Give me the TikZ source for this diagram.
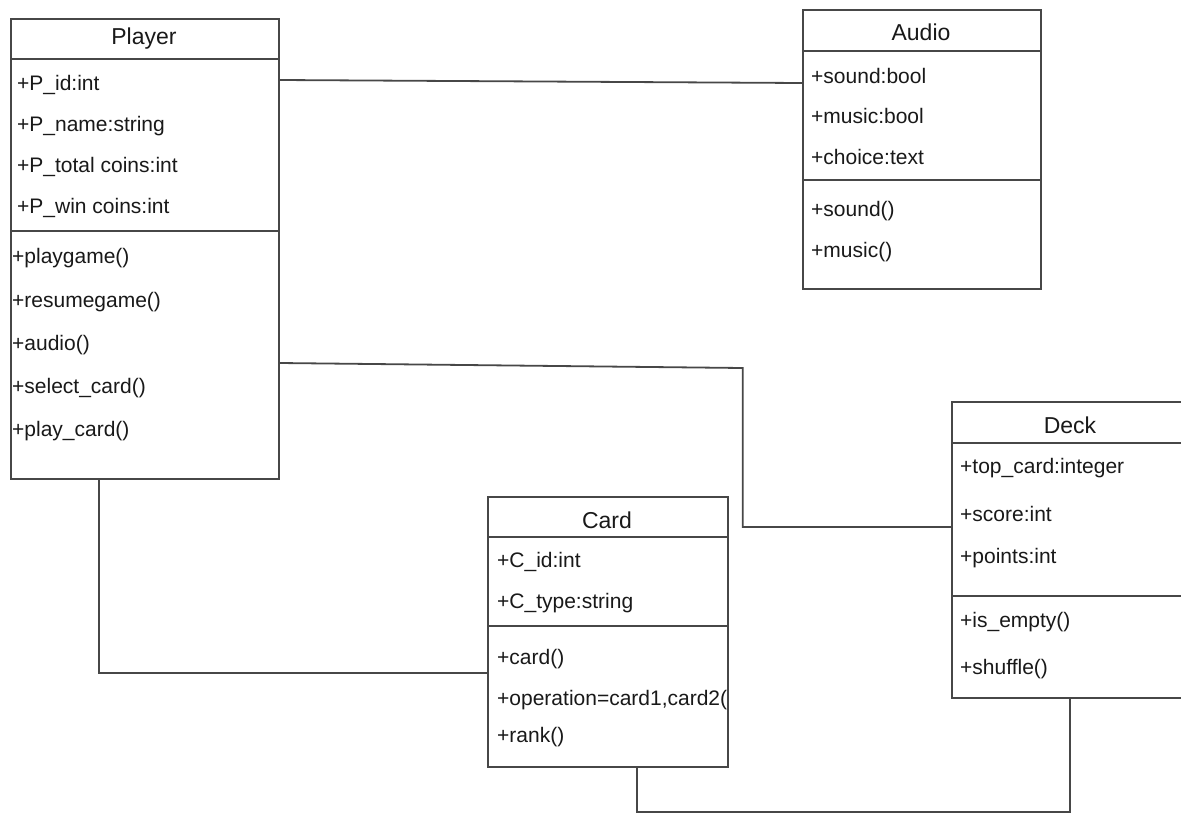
\documentclass[tikz,border=0pt]{standalone}
\usepackage{fontspec}
\setmainfont{Liberation Sans}
\begin{document}
\begin{tikzpicture}[x=1pt,y=-1pt,
  classbox/.style={draw=black!72, line width=1.8pt, fill=white, rectangle, inner sep=0pt, anchor=north west},
  divider/.style={draw=black!72, line width=1.8pt},
  conn/.style={draw=black!72, line width=1.8pt},
  title/.style={font=\fontsize{23}{27}\selectfont, text=black!90, inner sep=0pt},
  member/.style={font=\fontsize{21}{25}\selectfont, text=black!90, inner sep=0pt, anchor=west}]
\useasboundingbox (0,0) rectangle (1181,812);

% ---------- Player ----------
\node[classbox, minimum width=268pt, minimum height=460pt] (player) at (10,18) {};
\draw[divider] (10,59) -- (278,59);
\draw[divider] (10,231) -- (278,231);
\node[title] (ptitle) at (144,39) {Player};
\node[member] (p1) at (17,85) {+P\_id:int};
\node[member] (p2) at (17,126) {+P\_name:string};
\node[member] (p3) at (17,167) {+P\_total coins:int};
\node[member] (p4) at (17,208) {+P\_win coins:int};
\node[member] (p5) at (12,258) {+playgame()};
\node[member] (p6) at (12,302) {+resumegame()};
\node[member] (p7) at (12,345) {+audio()};
\node[member] (p8) at (12,388) {+select\_card()};
\node[member] (p9) at (12,431) {+play\_card()};

% ---------- Audio ----------
\node[classbox, minimum width=238pt, minimum height=279pt] (audio) at (802,9) {};
\draw[divider] (802,51) -- (1040,51);
\draw[divider] (802,180) -- (1040,180);
\node[title] (atitle) at (921,32) {Audio};
\node[member] (a1) at (811,76) {+sound:bool};
\node[member] (a2) at (811,116) {+music:bool};
\node[member] (a3) at (811,157) {+choice:text};
\node[member] (a4) at (811,211) {+sound()};
\node[member] (a5) at (811,252) {+music()};

% ---------- Card ----------
\node[classbox, minimum width=240pt, minimum height=270pt] (card) at (487,496) {};
\draw[divider] (487,537) -- (727,537);
\draw[divider] (487,626) -- (727,626);
\node[title] (ctitle) at (607,520) {Card};
\node[member] (c1) at (497,562) {+C\_id:int};
\node[member] (c2) at (497,603) {+C\_type:string};
\node[member] (c3) at (497,659) {+card()};
\begin{scope}
\clip (487,680) rectangle (726,720);
\node[member] (c4) at (497,700) {+operation=card1,card2()};
\end{scope}
\node[member] (c5) at (497,737) {+rank()};

% ---------- Deck ----------
\node[classbox, minimum width=240pt, minimum height=296pt] (deck) at (951,401) {};
\draw[divider] (951,443) -- (1191,443);
\draw[divider] (951,596) -- (1191,596);
\node[title] (dtitle) at (1070,425) {Deck};
\node[member] (d1) at (960,468) {+top\_card:integer};
\node[member] (d2) at (960,514) {+score:int};
\node[member] (d3) at (960,558) {+points:int};
\node[member] (d4) at (960,622) {+is\_empty()};
\node[member] (d5) at (960,669) {+shuffle()};

% ---------- Connectors ----------
\draw[conn] ([yshift=-62pt]player.north east) -- ([yshift=-74pt]audio.north west);
\draw[conn] ([yshift=-345pt]player.north east) -- ++(463,5) |- ([yshift=-126pt]deck.north west);
\draw[conn] ([xshift=89pt]player.south west) |- ([yshift=-177pt]card.north west);
\draw[conn] ([xshift=150pt]card.south west) -- ++(0,44) -| ([xshift=119pt]deck.south west);
\end{tikzpicture}
\end{document}
